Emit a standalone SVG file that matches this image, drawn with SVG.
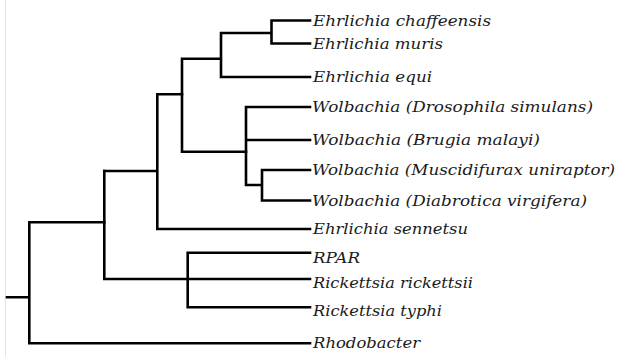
<svg xmlns="http://www.w3.org/2000/svg" width="620" height="358" viewBox="0 0 620 358">
<style>
.e{fill:none;stroke:#000;stroke-width:2.6;stroke-linecap:square;stroke-linejoin:miter}
.t{font-family:"DejaVu Serif","Liberation Serif",serif;font-style:italic;font-size:14px;fill:#1a1a1a}
</style>
<rect width="620" height="358" fill="#fff"/>
<line x1="5.5" y1="0" x2="5.5" y2="356.5" stroke="#e2e2e2" stroke-width="1"/>
<g id="connectors" class="e">
<path d="M7,297.3H29.3M29.3,222.3V343.3H310M29.3,222.3H104.3"/>
<path d="M104.3,171V279H310M187.7,252.7V307.3M187.7,252.7H310M187.7,307.3H310"/>
<path d="M104.3,171H157.3M157.3,94.3V229H310M157.3,94.3H182"/>
<path d="M182,58.7V151.7H246M182,58.7H221M221,33V77H310M221,33H271.5M271.5,20.5V43.5M271.5,20.5H310M271.5,43.5H310"/>
<path d="M246,107V185H262M246,107H310M246,140H310M262,170V200.5M262,170H310M262,200.5H310"/>
</g>
<g id="n1"><text class="t" x="313" y="25.5" textLength="178" lengthAdjust="spacingAndGlyphs">Ehrlichia chaffeensis</text></g>
<g id="n2"><text class="t" x="313" y="48.5" textLength="130" lengthAdjust="spacingAndGlyphs">Ehrlichia muris</text></g>
<g id="n3"><text class="t" x="313" y="82" textLength="119" lengthAdjust="spacingAndGlyphs">Ehrlichia equi</text></g>
<g id="n4"><text class="t" x="312" y="112" textLength="281" lengthAdjust="spacingAndGlyphs">Wolbachia (Drosophila simulans)</text></g>
<g id="n5"><text class="t" x="312" y="145" textLength="228" lengthAdjust="spacingAndGlyphs">Wolbachia (Brugia malayi)</text></g>
<g id="n6"><text class="t" x="312" y="175" textLength="303" lengthAdjust="spacingAndGlyphs">Wolbachia (Muscidifurax uniraptor)</text></g>
<g id="n7"><text class="t" x="312" y="205.5" textLength="275" lengthAdjust="spacingAndGlyphs">Wolbachia (Diabrotica virgifera)</text></g>
<g id="n8"><text class="t" x="313" y="234" textLength="155" lengthAdjust="spacingAndGlyphs">Ehrlichia sennetsu</text></g>
<g id="n9"><text class="t" x="313" y="262.7" textLength="47" lengthAdjust="spacingAndGlyphs">RPAR</text></g>
<g id="n10"><text class="t" x="313" y="288" textLength="160" lengthAdjust="spacingAndGlyphs">Rickettsia rickettsii</text></g>
<g id="n11"><text class="t" x="313" y="316.3" textLength="129" lengthAdjust="spacingAndGlyphs">Rickettsia typhi</text></g>
<g id="n12"><text class="t" x="313" y="348.3" textLength="107" lengthAdjust="spacingAndGlyphs">Rhodobacter</text></g>
</svg>
